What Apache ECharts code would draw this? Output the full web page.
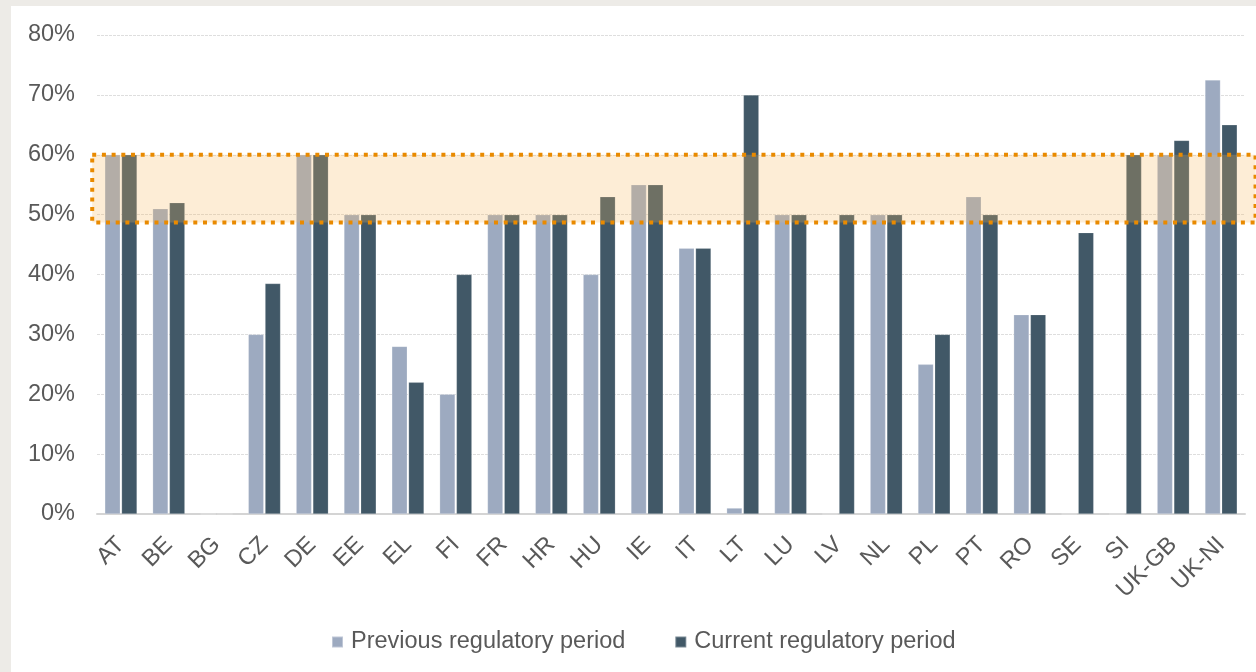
<!DOCTYPE html>
<html>
<head>
<meta charset="utf-8">
<script src="https://cdn.jsdelivr.net/npm/echarts@6/dist/echarts.min.js"></script>
<style>
  html, body { margin: 0; padding: 0; width: 1256px; height: 672px; background: #EDEBE7; overflow: hidden; }
  #panel { position: absolute; left: 11px; top: 6px; width: 1245px; height: 666px; background: #FFFFFF; }
  #chart { width: 1245px; height: 666px; }
</style>
</head>
<body>
<div id="panel"><div id="chart"></div></div>
<script>
const categories = ['AT','BE','BG','CZ','DE','EE','EL','FI','FR','HR','HU','IE','IT','LT','LU','LV','NL','PL','PT','RO','SE','SI','UK-GB','UK-NI'];
const previousPeriod = [60, 51, 0, 30, 60, 50, 28, 20, 50, 50, 40, 55, 44.4, 1, 50, 0, 50, 25, 53, 33.3, 0, 0, 60, 72.5];
const currentPeriod  = [60, 52, 0, 38.5, 60, 50, 22, 40, 50, 50, 53, 55, 44.4, 70, 50, 50, 50, 30, 50, 33.3, 47, 60, 62.4, 65];
const yTicks = [0, 10, 20, 30, 40, 50, 60, 70, 80];
const seriesNames = ['Previous regulatory period', 'Current regulatory period'];
const bandRange = [48.7, 60];

const FONT = '"Liberation Sans", Arial, sans-serif';
const TXT = '#595959';

const chart = echarts.init(document.getElementById('chart'), null, { renderer: 'canvas' });
chart.setOption({
  animation: false,
  backgroundColor: '#FFFFFF',
  textStyle: { fontFamily: FONT },
  grid: { left: 86, right: 11, top: 29, bottom: 158, containLabel: false },
  legend: {
    data: seriesNames,
    left: 315,
    top: 619,
    itemWidth: 11,
    itemHeight: 11,
    itemGap: 49,
    icon: 'rect',
    textStyle: { fontFamily: FONT, fontSize: 23.5, color: TXT, padding: [0, 0, 0, 3] }
  },
  xAxis: {
    type: 'category',
    data: categories,
    axisLine: { lineStyle: { color: '#D4D4D4', width: 2 } },
    axisTick: { show: false },
    axisLabel: { rotate: 45, fontFamily: FONT, fontSize: 23.5, color: TXT, margin: 27, interval: 0 }
  },
  yAxis: {
    type: 'value',
    min: 0, max: 80, interval: 10,
    axisLine: { show: false },
    axisTick: { show: false },
    axisLabel: { formatter: v => yTicks.includes(v) ? v + '%' : '', fontFamily: FONT, fontSize: 23.5, color: TXT, margin: 22 },
    splitLine: { lineStyle: { color: '#DEDEDE', width: 1, type: [3, 1] } }
  },
  series: [
    {
      name: seriesNames[0], type: 'bar', data: previousPeriod,
      barGap: '8%', barCategoryGap: '32.5%',
      itemStyle: { color: '#9DAAC0', borderColor: 'rgba(255,255,255,0.35)', borderWidth: 0.6 },
      z: 2
    },
    {
      name: seriesNames[1], type: 'bar', data: currentPeriod,
      itemStyle: { color: '#415867', borderColor: 'rgba(255,255,255,0.3)', borderWidth: 0.6 },
      z: 2
    },
    {
      name: 'band', type: 'custom', clip: false, silent: true, z: 5,
      data: [[0, bandRange[0], bandRange[1]]],
      encode: { x: 0, y: [1, 2] },
      renderItem: function (params, api) {
        const first = api.coord([0, api.value(1)]);
        const last = api.coord([categories.length - 1, api.value(2)]);
        const bw = api.size([1, 0])[0];
        const x0 = first[0] - bw * 0.6;
        const x1 = last[0] + bw * 0.72;
        const yLow = first[1];
        const yHigh = last[1];
        return {
          type: 'rect',
          shape: { x: x0, y: yHigh, width: x1 - x0, height: yLow - yHigh },
          style: {
            fill: 'rgba(247,184,93,0.25)',
            stroke: '#E98A00',
            lineWidth: 4,
            lineDash: [4, 5.7]
          },
          silent: true
        };
      }
    }
  ]
});
</script>
</body>
</html>
